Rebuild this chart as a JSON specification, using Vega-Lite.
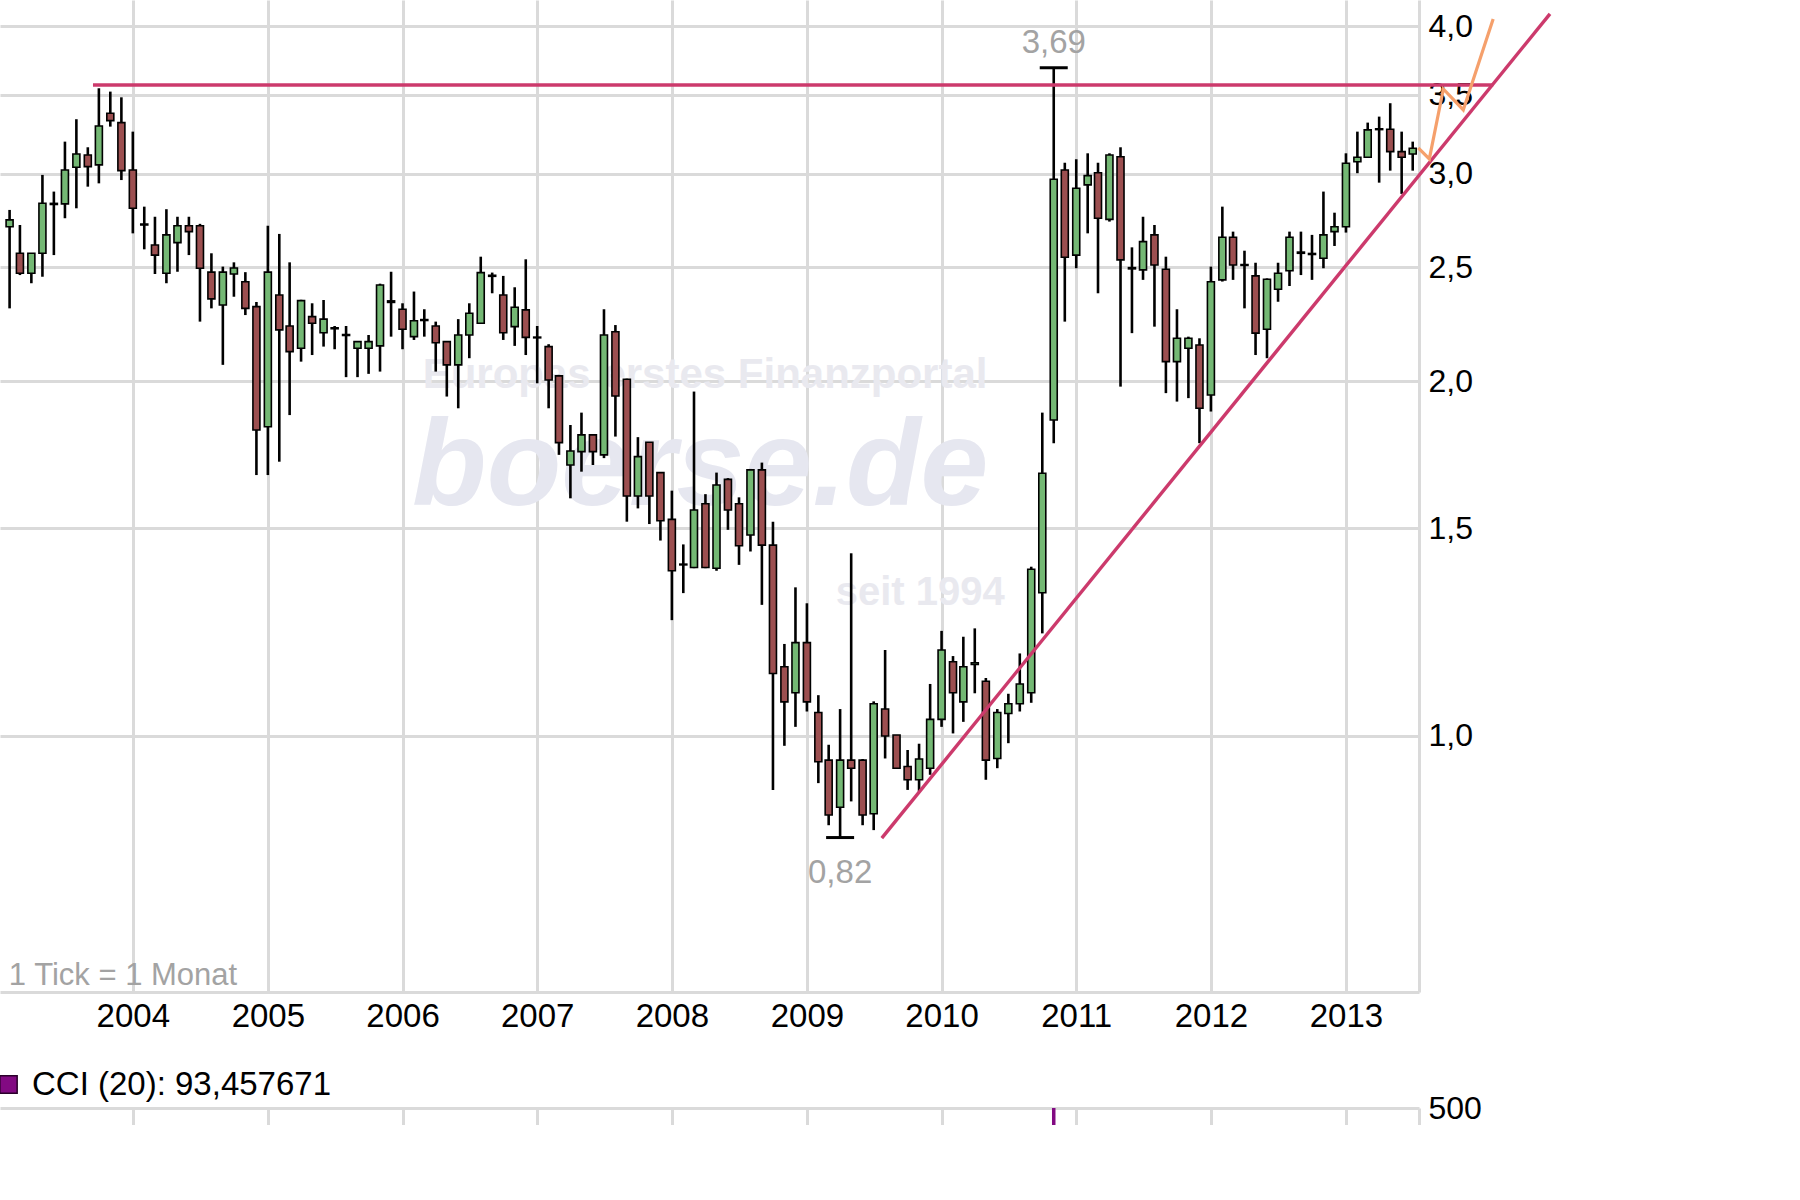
{
"$schema": "https://vega.github.io/schema/vega-lite/v6.json",
"padding": 0,
"background": "#ffffff",
"spacing": 35,
"config": {
  "view": {"stroke": null},
  "font": "Liberation Sans",
  "scale": {"continuousPadding": 0},
  "axis": {"gridColor": "#dadada", "gridWidth": 3, "domainColor": "#dadada", "domainWidth": 3, "ticks": false, "labelColor": "#000000", "labelFont": "Liberation Sans"}
},
"resolve": {"scale": {"color": "independent"}, "legend": {"color": "independent"}},
"datasets": {
  "ohlc": [
    {"date":"2003-02-01","o":2.705,"h":2.795,"l":2.306,"c":2.741},
    {"date":"2003-03-01","o":2.568,"h":2.714,"l":2.461,"c":2.470},
    {"date":"2003-04-01","o":2.470,"h":2.568,"l":2.422,"c":2.568},
    {"date":"2003-05-01","o":2.568,"h":2.993,"l":2.453,"c":2.832},
    {"date":"2003-06-01","o":2.825,"h":2.897,"l":2.559,"c":2.831},
    {"date":"2003-07-01","o":2.828,"h":3.194,"l":2.750,"c":3.022},
    {"date":"2003-08-01","o":3.038,"h":3.337,"l":2.804,"c":3.118},
    {"date":"2003-09-01","o":3.112,"h":3.159,"l":2.925,"c":3.042},
    {"date":"2003-10-01","o":3.052,"h":3.545,"l":2.944,"c":3.293},
    {"date":"2003-11-01","o":3.376,"h":3.522,"l":3.289,"c":3.328},
    {"date":"2003-12-01","o":3.315,"h":3.483,"l":2.963,"c":3.018},
    {"date":"2004-01-01","o":3.022,"h":3.257,"l":2.670,"c":2.804},
    {"date":"2004-02-01","o":2.714,"h":2.813,"l":2.588,"c":2.719},
    {"date":"2004-03-01","o":2.610,"h":2.758,"l":2.466,"c":2.559},
    {"date":"2004-04-01","o":2.470,"h":2.799,"l":2.422,"c":2.662},
    {"date":"2004-05-01","o":2.622,"h":2.758,"l":2.477,"c":2.710},
    {"date":"2004-06-01","o":2.710,"h":2.758,"l":2.559,"c":2.679},
    {"date":"2004-07-01","o":2.710,"h":2.720,"l":2.247,"c":2.494},
    {"date":"2004-08-01","o":2.475,"h":2.568,"l":2.306,"c":2.349},
    {"date":"2004-09-01","o":2.321,"h":2.502,"l":2.065,"c":2.475},
    {"date":"2004-10-01","o":2.466,"h":2.523,"l":2.359,"c":2.495},
    {"date":"2004-11-01","o":2.429,"h":2.475,"l":2.276,"c":2.306},
    {"date":"2004-12-01","o":2.314,"h":2.335,"l":1.665,"c":1.818},
    {"date":"2005-01-01","o":1.830,"h":2.710,"l":1.665,"c":2.475},
    {"date":"2005-02-01","o":2.367,"h":2.667,"l":1.709,"c":2.211},
    {"date":"2005-03-01","o":2.228,"h":2.523,"l":1.872,"c":2.119},
    {"date":"2005-04-01","o":2.133,"h":2.345,"l":2.078,"c":2.341},
    {"date":"2005-05-01","o":2.269,"h":2.329,"l":2.105,"c":2.240},
    {"date":"2005-06-01","o":2.199,"h":2.344,"l":2.140,"c":2.258},
    {"date":"2005-07-01","o":2.220,"h":2.228,"l":2.129,"c":2.216},
    {"date":"2005-08-01","o":2.191,"h":2.228,"l":2.016,"c":2.187},
    {"date":"2005-09-01","o":2.133,"h":2.161,"l":2.016,"c":2.161},
    {"date":"2005-10-01","o":2.133,"h":2.189,"l":2.029,"c":2.161},
    {"date":"2005-11-01","o":2.143,"h":2.420,"l":2.038,"c":2.414},
    {"date":"2005-12-01","o":2.340,"h":2.477,"l":2.182,"c":2.333},
    {"date":"2006-01-01","o":2.302,"h":2.329,"l":2.129,"c":2.214},
    {"date":"2006-02-01","o":2.182,"h":2.383,"l":2.168,"c":2.251},
    {"date":"2006-03-01","o":2.256,"h":2.302,"l":2.182,"c":2.252},
    {"date":"2006-04-01","o":2.228,"h":2.247,"l":2.038,"c":2.156},
    {"date":"2006-05-01","o":2.161,"h":2.161,"l":1.941,"c":2.065},
    {"date":"2006-06-01","o":2.065,"h":2.258,"l":1.897,"c":2.189},
    {"date":"2006-07-01","o":2.189,"h":2.329,"l":2.092,"c":2.284},
    {"date":"2006-08-01","o":2.240,"h":2.551,"l":2.240,"c":2.473},
    {"date":"2006-09-01","o":2.460,"h":2.473,"l":2.375,"c":2.455},
    {"date":"2006-10-01","o":2.367,"h":2.457,"l":2.168,"c":2.199},
    {"date":"2006-11-01","o":2.225,"h":2.403,"l":2.143,"c":2.311},
    {"date":"2006-12-01","o":2.299,"h":2.538,"l":2.105,"c":2.179},
    {"date":"2007-01-01","o":2.180,"h":2.228,"l":1.992,"c":2.177},
    {"date":"2007-02-01","o":2.140,"h":2.150,"l":1.897,"c":2.005},
    {"date":"2007-03-01","o":2.021,"h":2.025,"l":1.732,"c":1.774},
    {"date":"2007-04-01","o":1.698,"h":1.836,"l":1.591,"c":1.745},
    {"date":"2007-05-01","o":1.743,"h":1.881,"l":1.676,"c":1.801},
    {"date":"2007-06-01","o":1.801,"h":1.801,"l":1.698,"c":1.743},
    {"date":"2007-07-01","o":1.732,"h":2.302,"l":1.721,"c":2.189},
    {"date":"2007-08-01","o":2.203,"h":2.232,"l":1.795,"c":1.943},
    {"date":"2007-09-01","o":2.008,"h":2.010,"l":1.520,"c":1.598},
    {"date":"2007-10-01","o":1.598,"h":1.793,"l":1.560,"c":1.726},
    {"date":"2007-11-01","o":1.775,"h":1.775,"l":1.513,"c":1.598},
    {"date":"2007-12-01","o":1.673,"h":1.673,"l":1.465,"c":1.523},
    {"date":"2008-01-01","o":1.527,"h":1.615,"l":1.254,"c":1.381},
    {"date":"2008-02-01","o":1.397,"h":1.454,"l":1.322,"c":1.399},
    {"date":"2008-03-01","o":1.390,"h":1.960,"l":1.388,"c":1.555},
    {"date":"2008-04-01","o":1.574,"h":1.604,"l":1.388,"c":1.390},
    {"date":"2008-05-01","o":1.388,"h":1.673,"l":1.381,"c":1.633},
    {"date":"2008-06-01","o":1.651,"h":1.655,"l":1.496,"c":1.555},
    {"date":"2008-07-01","o":1.574,"h":1.594,"l":1.397,"c":1.450},
    {"date":"2008-08-01","o":1.481,"h":1.685,"l":1.434,"c":1.682},
    {"date":"2008-09-01","o":1.682,"h":1.706,"l":1.292,"c":1.452},
    {"date":"2008-10-01","o":1.452,"h":1.520,"l":0.900,"c":1.130},
    {"date":"2008-11-01","o":1.145,"h":1.197,"l":0.981,"c":1.069},
    {"date":"2008-12-01","o":1.088,"h":1.337,"l":1.018,"c":1.200},
    {"date":"2009-01-01","o":1.200,"h":1.296,"l":1.049,"c":1.069},
    {"date":"2009-02-01","o":1.047,"h":1.083,"l":0.912,"c":0.951},
    {"date":"2009-03-01","o":0.954,"h":0.983,"l":0.840,"c":0.857},
    {"date":"2009-04-01","o":0.870,"h":1.054,"l":0.820,"c":0.954},
    {"date":"2009-05-01","o":0.954,"h":1.429,"l":0.880,"c":0.939},
    {"date":"2009-06-01","o":0.954,"h":0.956,"l":0.840,"c":0.857},
    {"date":"2009-07-01","o":0.859,"h":1.070,"l":0.832,"c":1.065},
    {"date":"2009-08-01","o":1.054,"h":1.183,"l":0.957,"c":1.000},
    {"date":"2009-09-01","o":1.002,"h":1.002,"l":0.939,"c":0.939},
    {"date":"2009-10-01","o":0.942,"h":0.973,"l":0.900,"c":0.918},
    {"date":"2009-11-01","o":0.918,"h":0.985,"l":0.897,"c":0.956},
    {"date":"2009-12-01","o":0.939,"h":1.107,"l":0.927,"c":1.033},
    {"date":"2010-01-01","o":1.033,"h":1.228,"l":1.018,"c":1.183},
    {"date":"2010-02-01","o":1.156,"h":1.169,"l":1.005,"c":1.088},
    {"date":"2010-03-01","o":1.069,"h":1.214,"l":1.028,"c":1.145},
    {"date":"2010-04-01","o":1.150,"h":1.234,"l":1.087,"c":1.154},
    {"date":"2010-05-01","o":1.113,"h":1.120,"l":0.918,"c":0.954},
    {"date":"2010-06-01","o":0.957,"h":1.054,"l":0.939,"c":1.047},
    {"date":"2010-07-01","o":1.045,"h":1.086,"l":0.986,"c":1.065},
    {"date":"2010-08-01","o":1.065,"h":1.175,"l":1.049,"c":1.107},
    {"date":"2010-09-01","o":1.088,"h":1.392,"l":1.067,"c":1.385},
    {"date":"2010-10-01","o":1.323,"h":1.881,"l":1.222,"c":1.671},
    {"date":"2010-11-01","o":1.854,"h":3.690,"l":1.772,"c":2.968},
    {"date":"2010-12-01","o":3.022,"h":3.065,"l":2.247,"c":2.548},
    {"date":"2011-01-01","o":2.559,"h":3.086,"l":2.494,"c":2.916},
    {"date":"2011-02-01","o":2.935,"h":3.122,"l":2.670,"c":2.989},
    {"date":"2011-03-01","o":3.006,"h":3.065,"l":2.375,"c":2.750},
    {"date":"2011-04-01","o":2.744,"h":3.122,"l":2.732,"c":3.112},
    {"date":"2011-05-01","o":3.101,"h":3.159,"l":1.979,"c":2.535},
    {"date":"2011-06-01","o":2.497,"h":2.598,"l":2.197,"c":2.491},
    {"date":"2011-07-01","o":2.486,"h":2.758,"l":2.438,"c":2.627},
    {"date":"2011-08-01","o":2.662,"h":2.714,"l":2.225,"c":2.510},
    {"date":"2011-09-01","o":2.489,"h":2.551,"l":1.954,"c":2.078},
    {"date":"2011-10-01","o":2.078,"h":2.302,"l":1.922,"c":2.175},
    {"date":"2011-11-01","o":2.133,"h":2.182,"l":1.935,"c":2.175},
    {"date":"2011-12-01","o":2.147,"h":2.175,"l":1.772,"c":1.897},
    {"date":"2012-01-01","o":1.947,"h":2.502,"l":1.885,"c":2.429},
    {"date":"2012-02-01","o":2.438,"h":2.813,"l":2.430,"c":2.650},
    {"date":"2012-03-01","o":2.650,"h":2.679,"l":2.438,"c":2.510},
    {"date":"2012-04-01","o":2.512,"h":2.581,"l":2.306,"c":2.508},
    {"date":"2012-05-01","o":2.457,"h":2.521,"l":2.105,"c":2.197},
    {"date":"2012-06-01","o":2.214,"h":2.445,"l":2.092,"c":2.441},
    {"date":"2012-07-01","o":2.394,"h":2.521,"l":2.336,"c":2.470},
    {"date":"2012-08-01","o":2.482,"h":2.679,"l":2.409,"c":2.650},
    {"date":"2012-09-01","o":2.568,"h":2.679,"l":2.461,"c":2.574},
    {"date":"2012-10-01","o":2.562,"h":2.662,"l":2.438,"c":2.567},
    {"date":"2012-11-01","o":2.543,"h":2.897,"l":2.494,"c":2.662},
    {"date":"2012-12-01","o":2.679,"h":2.780,"l":2.605,"c":2.705},
    {"date":"2013-01-01","o":2.705,"h":3.122,"l":2.674,"c":3.062},
    {"date":"2013-02-01","o":3.071,"h":3.257,"l":3.003,"c":3.098},
    {"date":"2013-03-01","o":3.098,"h":3.315,"l":3.095,"c":3.268},
    {"date":"2013-04-01","o":3.270,"h":3.354,"l":2.948,"c":3.275},
    {"date":"2013-05-01","o":3.272,"h":3.443,"l":3.018,"c":3.132},
    {"date":"2013-06-01","o":3.132,"h":3.257,"l":2.884,"c":3.098},
    {"date":"2013-07-01","o":3.118,"h":3.194,"l":3.018,"c":3.153}
  ],
  "hline": [{"date":"2003-09-15","value":3.568},{"date":"2014-02-04","value":3.568}],
  "tline": [{"date":"2009-07-23","value":0.819},{"date":"2014-07-08","value":4.10}],
  "orange": [
    {"date":"2013-07-16","value":3.155},
    {"date":"2013-08-15","value":3.088},
    {"date":"2013-09-22","value":3.540},
    {"date":"2013-11-15","value":3.398},
    {"date":"2014-02-04","value":4.059}
  ],
  "cci": [{"date":"2010-11-01","cci":505}]
},
"vconcat": [
  {
    "width": 1419,
    "height": 992,
    "layer": [
      {
        "data": {"values": [{}]},
        "mark": {"type": "text", "text": "Europas erstes Finanzportal", "font": "Liberation Sans", "fontWeight": "bold", "fontSize": 42, "color": "#e9e9ef", "align": "center", "baseline": "alphabetic"},
        "encoding": {
          "x": {"datum": {"year":2008,"month":3,"date":31,"utc":true}, "type": "temporal", "title": null, "scale": {"type": "utc"}},
          "y": {"datum": 1.974, "type": "quantitative", "title": null, "scale": {"type": "log", "domain": [0.6064, 4.2123], "nice": false}}
        }
      },
      {
        "data": {"values": [{}]},
        "mark": {"type": "text", "text": "boerse.de", "font": "Liberation Sans", "fontWeight": "bold", "fontStyle": "italic", "fontSize": 122, "color": "#e6e7f0", "align": "center", "baseline": "alphabetic"},
        "encoding": {
          "x": {"datum": {"year":2008,"month":3,"date":18,"utc":true}, "type": "temporal", "title": null, "scale": {"type": "utc"}},
          "y": {"datum": 1.570, "type": "quantitative", "title": null, "scale": {"type": "log", "domain": [0.6064, 4.2123], "nice": false}}
        }
      },
      {
        "data": {"values": [{}]},
        "mark": {"type": "text", "text": "seit 1994", "font": "Liberation Sans", "fontWeight": "bold", "fontSize": 40, "color": "#e9e9ef", "align": "center", "baseline": "alphabetic"},
        "encoding": {
          "x": {"datum": {"year":2009,"month":11,"date":4,"utc":true}, "type": "temporal", "title": null, "scale": {"type": "utc"}},
          "y": {"datum": 1.2917, "type": "quantitative", "title": null, "scale": {"type": "log", "domain": [0.6064, 4.2123], "nice": false}}
        }
      },
      {
        "data": {"name": "ohlc"},
        "mark": {"type": "rule", "color": "#000000", "strokeWidth": 2.6, "clip": true},
        "encoding": {
          "x": {"field": "date", "type": "temporal", "title": null,
            "scale": {"type": "utc", "padding": 0, "domain": [{"year":2003,"month":1,"date":6,"utc":true},{"year":2013,"month":7,"date":18,"utc":true}]},
            "axis": {"orient": "bottom", "values": [{"year":2004,"month":1,"date":1,"utc":true},{"year":2005,"month":1,"date":1,"utc":true},{"year":2006,"month":1,"date":1,"utc":true},{"year":2007,"month":1,"date":1,"utc":true},{"year":2008,"month":1,"date":1,"utc":true},{"year":2009,"month":1,"date":1,"utc":true},{"year":2010,"month":1,"date":1,"utc":true},{"year":2011,"month":1,"date":1,"utc":true},{"year":2012,"month":1,"date":1,"utc":true},{"year":2013,"month":1,"date":1,"utc":true}],
              "format": "%Y", "formatType": "utc", "grid": true, "labelFontSize": 33, "labelPadding": 8, "title": null, "labelFlush": false, "labelOverlap": false}
          },
          "y": {"field": "l", "type": "quantitative", "title": null, "scale": {"type": "log", "domain": [0.6064, 4.2123], "nice": false},
            "axis": {"orient": "right", "values": [1, 1.5, 2, 2.5, 3, 3.5, 4], "labelExpr": "replace(format(datum.value, '.1f'), '.', ',')", "grid": true, "labelFontSize": 32, "labelPadding": 9, "title": null, "labelFlush": false, "labelOverlap": false}},
          "y2": {"field": "h"}
        }
      },
      {
        "data": {"name": "ohlc"},
        "mark": {"type": "bar", "size": 7, "stroke": "#000000", "strokeWidth": 1.6, "clip": true},
        "encoding": {
          "x": {"field": "date", "type": "temporal", "title": null, "scale": {"type": "utc", "padding": 0}},
          "y": {"field": "o", "type": "quantitative", "title": null, "scale": {"type": "log", "domain": [0.6064, 4.2123], "nice": false}},
          "y2": {"field": "c"},
          "fill": {"condition": {"test": "datum.c >= datum.o", "value": "#74b874"}, "value": "#9c4f50"}
        }
      },
      {
        "data": {"values": [{}]},
        "mark": {"type": "tick", "orient": "horizontal", "size": 28, "thickness": 3, "color": "#000000", "opacity": 1},
        "encoding": {
          "x": {"datum": {"year":2010,"month":11,"date":1,"utc":true}, "type": "temporal", "title": null, "scale": {"type": "utc", "padding": 0}},
          "y": {"datum": 3.69, "type": "quantitative", "title": null, "scale": {"type": "log", "domain": [0.6064, 4.2123], "nice": false}}
        }
      },
      {
        "data": {"values": [{}]},
        "mark": {"type": "tick", "orient": "horizontal", "size": 28, "thickness": 3, "color": "#000000", "opacity": 1},
        "encoding": {
          "x": {"datum": {"year":2009,"month":4,"date":1,"utc":true}, "type": "temporal", "title": null, "scale": {"type": "utc", "padding": 0}},
          "y": {"datum": 0.82, "type": "quantitative", "title": null, "scale": {"type": "log", "domain": [0.6064, 4.2123], "nice": false}}
        }
      },
      {
        "data": {"values": [{}]},
        "mark": {"type": "text", "text": "3,69", "fontSize": 33, "color": "#a3a3a3", "align": "center", "baseline": "alphabetic", "dy": -15},
        "encoding": {
          "x": {"datum": {"year":2010,"month":11,"date":1,"utc":true}, "type": "temporal", "title": null, "scale": {"type": "utc"}},
          "y": {"datum": 3.69, "type": "quantitative", "title": null, "scale": {"type": "log", "domain": [0.6064, 4.2123], "nice": false}}
        }
      },
      {
        "data": {"values": [{}]},
        "mark": {"type": "text", "text": "0,82", "fontSize": 33, "color": "#a3a3a3", "align": "center", "baseline": "alphabetic", "dy": 45},
        "encoding": {
          "x": {"datum": {"year":2009,"month":4,"date":1,"utc":true}, "type": "temporal", "title": null, "scale": {"type": "utc"}},
          "y": {"datum": 0.82, "type": "quantitative", "title": null, "scale": {"type": "log", "domain": [0.6064, 4.2123], "nice": false}}
        }
      },
      {
        "data": {"values": [{}]},
        "mark": {"type": "text", "text": "1 Tick = 1 Monat", "fontSize": 31, "color": "#a3a3a3", "align": "left", "baseline": "alphabetic"},
        "encoding": {
          "x": {"datum": {"year":2003,"month":1,"date":30,"utc":true}, "type": "temporal", "title": null, "scale": {"type": "utc"}},
          "y": {"datum": 0.615, "type": "quantitative", "title": null, "scale": {"type": "log", "domain": [0.6064, 4.2123], "nice": false}}
        }
      },
      {
        "data": {"name": "hline"},
        "mark": {"type": "line", "color": "#cc3a6c", "strokeWidth": 3.4, "clip": false},
        "encoding": {
          "x": {"field": "date", "type": "temporal", "title": null, "scale": {"type": "utc"}},
          "y": {"field": "value", "type": "quantitative", "title": null, "scale": {"type": "log", "domain": [0.6064, 4.2123], "nice": false}}
        }
      },
      {
        "data": {"name": "tline"},
        "mark": {"type": "line", "color": "#cc3a6c", "strokeWidth": 3.4, "clip": false},
        "encoding": {
          "x": {"field": "date", "type": "temporal", "title": null, "scale": {"type": "utc"}},
          "y": {"field": "value", "type": "quantitative", "title": null, "scale": {"type": "log", "domain": [0.6064, 4.2123], "nice": false}}
        }
      },
      {
        "data": {"name": "orange"},
        "mark": {"type": "line", "color": "#f5a06c", "strokeWidth": 3.2, "clip": false},
        "encoding": {
          "x": {"field": "date", "type": "temporal", "title": null, "scale": {"type": "utc"}},
          "y": {"field": "value", "type": "quantitative", "title": null, "scale": {"type": "log", "domain": [0.6064, 4.2123], "nice": false}}
        }
      }
    ]
  },
  {
    "width": 1419,
    "height": 17,
    "data": {"name": "cci"},
    "mark": {"type": "bar", "size": 3.5, "clip": true},
    "encoding": {
      "x": {"field": "date", "type": "temporal", "title": null,
        "scale": {"type": "utc", "padding": 0, "domain": [{"year":2003,"month":1,"date":6,"utc":true},{"year":2013,"month":7,"date":18,"utc":true}]},
        "axis": {"values": [{"year":2004,"month":1,"date":1,"utc":true},{"year":2005,"month":1,"date":1,"utc":true},{"year":2006,"month":1,"date":1,"utc":true},{"year":2007,"month":1,"date":1,"utc":true},{"year":2008,"month":1,"date":1,"utc":true},{"year":2009,"month":1,"date":1,"utc":true},{"year":2010,"month":1,"date":1,"utc":true},{"year":2011,"month":1,"date":1,"utc":true},{"year":2012,"month":1,"date":1,"utc":true},{"year":2013,"month":1,"date":1,"utc":true}],
          "grid": true, "labels": false, "domain": false, "title": null}
      },
      "y": {"field": "cci", "type": "quantitative", "title": null, "scale": {"domain": [440, 500], "nice": false, "zero": false},
        "axis": {"orient": "right", "values": [500], "grid": true, "domain": true, "labelFontSize": 32, "labelPadding": 9, "title": null, "labelFlush": false}},
      "color": {"datum": "CCI (20): 93,457671", "type": "nominal", "scale": {"range": ["#820a82"]},
        "legend": {"orient": "top", "direction": "horizontal", "title": null, "symbolType": "square", "symbolSize": 300, "symbolStrokeColor": "#2a002a", "symbolStrokeWidth": 1.5, "symbolOffset": -8, "labelFontSize": 33, "labelLimit": 0, "labelColor": "#000000", "labelFont": "Liberation Sans", "labelOffset": 7, "offset": 6, "padding": 0}}
    }
  }
]
}
